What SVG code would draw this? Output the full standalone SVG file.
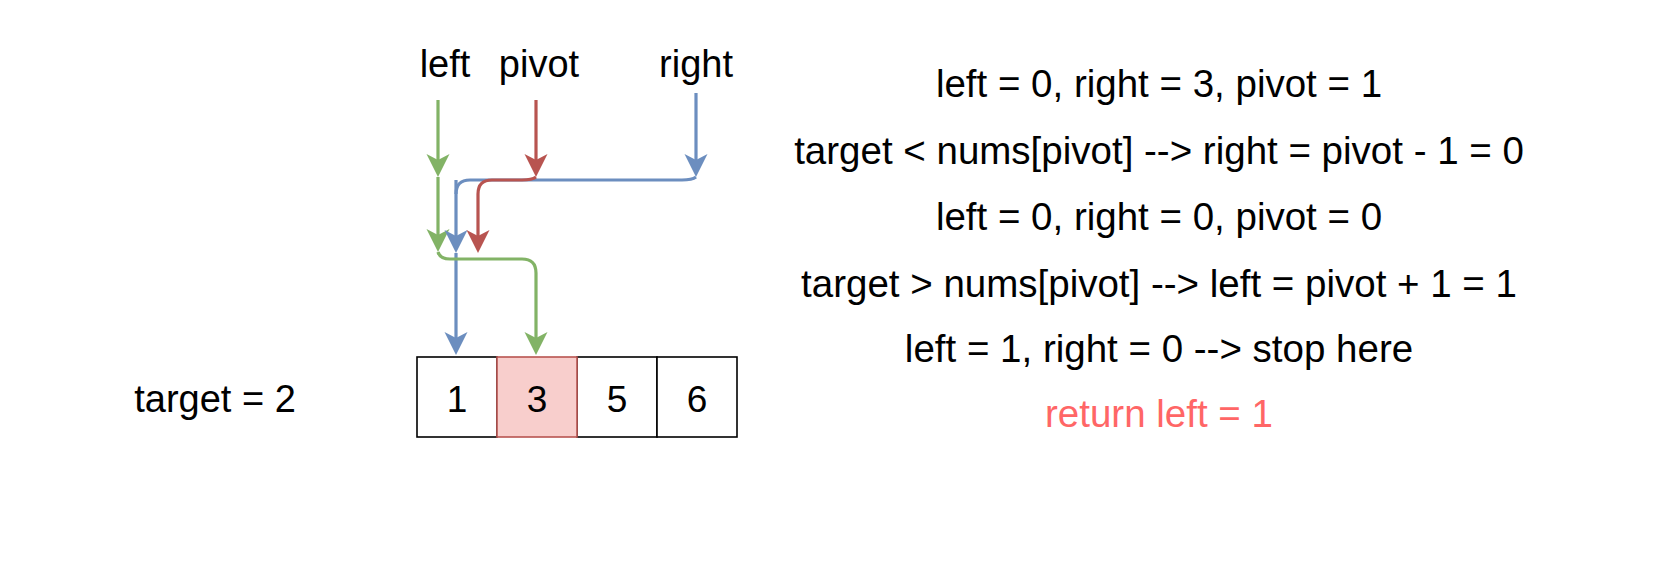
<svg xmlns="http://www.w3.org/2000/svg" width="1660" height="566" viewBox="0 0 1660 566">
<style>
  text { font-family: "Liberation Sans", Arial, sans-serif; fill: #000; }
  .lbl { font-size: 38px; text-anchor: middle; }
  .num { font-size: 37px; text-anchor: middle; }
  .info { font-size: 38.5px; text-anchor: middle; }
  .ret { fill: #FF6666; }
  .cell { fill: #ffffff; stroke: #000000; stroke-width: 1.6; }
  .hl { fill: #f8cecc; stroke: #b85450; stroke-width: 1.6; }
  .e { fill: none; stroke-width: 3.2; }
  .g { stroke: #82b366; }
  .r { stroke: #b85450; }
  .b { stroke: #6c8ebf; }
</style>
<defs>
  <marker id="ag" markerUnits="userSpaceOnUse" viewBox="0 -12 24 24" markerWidth="24" markerHeight="24" refX="6" refY="0" orient="auto" overflow="visible"><path d="M23,0 L0,-11.5 L6,0 L0,11.5 Z" fill="#82b366"/></marker>
  <marker id="ar" markerUnits="userSpaceOnUse" viewBox="0 -12 24 24" markerWidth="24" markerHeight="24" refX="6" refY="0" orient="auto" overflow="visible"><path d="M23,0 L0,-11.5 L6,0 L0,11.5 Z" fill="#b85450"/></marker>
  <marker id="ab" markerUnits="userSpaceOnUse" viewBox="0 -12 24 24" markerWidth="24" markerHeight="24" refX="6" refY="0" orient="auto" overflow="visible"><path d="M23,0 L0,-11.5 L6,0 L0,11.5 Z" fill="#6c8ebf"/></marker>
</defs>
<rect width="1660" height="566" fill="#ffffff"/>

<g id="label-left"><text class="lbl" x="445" y="77">left</text></g>
<g id="label-pivot"><text class="lbl" x="539" y="77">pivot</text></g>
<g id="label-right"><text class="lbl" x="696" y="77">right</text></g>

<g id="connectors">
  <path class="e g" d="M438 100 L438 160" marker-end="url(#ag)"/>
  <path class="e r" d="M536 100 L536 160" marker-end="url(#ar)"/>
  <path class="e b" d="M696 93 L696 160" marker-end="url(#ab)"/>
  <path class="e g" d="M438 177 L438 235" marker-end="url(#ag)"/>
  <path class="e b" d="M696 177 Q692 180 682 180 L470 180 Q456 180 456 194"/>
  <path class="e b" d="M456 180 L456 236" marker-end="url(#ab)"/>
  <path class="e r" d="M536 177 Q532 180 522 180 L492 180 Q478 180 478 194 L478 236" marker-end="url(#ar)"/>
  <path class="e b" d="M456 253 L456 338" marker-end="url(#ab)"/>
  <path class="e g" d="M438 252 Q440 259 450 259 L522 259 Q536 259 536 273 L536 338" marker-end="url(#ag)"/>
</g>

<g id="target"><text class="lbl" x="215" y="412">target = 2</text></g>

<g id="cell-0"><rect class="cell" x="417" y="357" width="80" height="80"/><text class="num" x="457" y="412">1</text></g>
<g id="cell-2"><rect class="cell" x="577" y="357" width="80" height="80"/><text class="num" x="617" y="412">5</text></g>
<g id="cell-3"><rect class="cell" x="657" y="357" width="80" height="80"/><text class="num" x="697" y="412">6</text></g>
<g id="cell-1"><rect class="hl" x="497" y="357" width="80" height="80"/><text class="num" x="537" y="412">3</text></g>

<g id="steps">
  <text class="info" x="1159" y="97">left = 0, right = 3, pivot = 1</text>
  <text class="info" x="1159" y="164">target &lt; nums[pivot] --&gt; right = pivot - 1 = 0</text>
  <text class="info" x="1159" y="230">left = 0, right = 0, pivot = 0</text>
  <text class="info" x="1159" y="297">target &gt; nums[pivot] --&gt; left = pivot + 1 = 1</text>
  <text class="info" x="1159" y="362">left = 1, right = 0 --&gt; stop here</text>
  <text class="info ret" x="1159" y="427">return left = 1</text>
</g>
</svg>
